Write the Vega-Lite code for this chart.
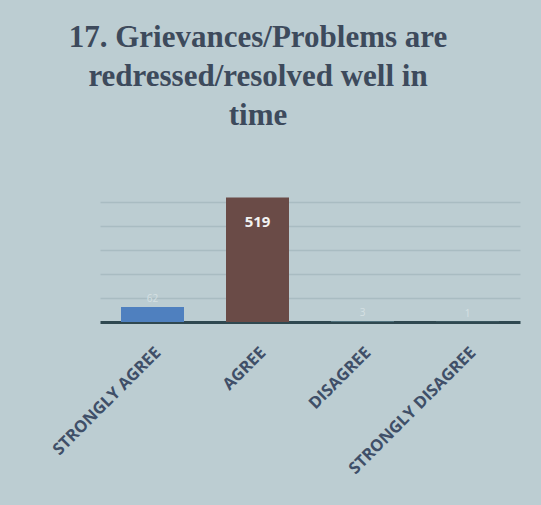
{
  "$schema": "https://vega.github.io/schema/vega-lite/v6.json",
  "autosize": "none",
  "width": 420,
  "height": 144,
  "padding": {"left": 100, "top": 178, "right": 21, "bottom": 183},
  "background": "#bccdd2",
  "title": {
    "text": ["17. Grievances/Problems are", "redressed/resolved well in", "time"],
    "font": "Liberation Serif",
    "fontSize": 31,
    "fontWeight": "bold",
    "color": "#3d4a5c",
    "lineHeight": 39,
    "anchor": "middle",
    "frame": "group",
    "dx": -52,
    "offset": 46
  },
  "config": {
    "view": {"stroke": null},
    "axis": {"labelFont": "Open Sans"}
  },
  "data": {
    "values": [
      {"response": "STRONGLY AGREE", "count": 62, "color": "#4f80bf"},
      {"response": "AGREE", "count": 519, "color": "#6a4b47"},
      {"response": "DISAGREE", "count": 3, "color": "#5d7f8c"},
      {"response": "STRONGLY DISAGREE", "count": 1, "color": "#5d7f8c"}
    ]
  },
  "encoding": {
    "x": {
      "field": "response",
      "type": "nominal",
      "sort": null,
      "scale": {"paddingInner": 0.4, "paddingOuter": 0.2},
      "axis": {
        "title": null,
        "labelAngle": -45,
        "labelFontSize": 16.5,
        "labelFontWeight": "bold",
        "labelColor": "#3f4f68",
        "labelPadding": 22,
        "ticks": false,
        "domainColor": "#2f4850",
        "domainWidth": 3
      }
    },
    "y": {
      "field": "count",
      "type": "quantitative",
      "scale": {"domain": [0, 600]},
      "axis": {
        "title": null,
        "labels": false,
        "ticks": false,
        "domain": false,
        "values": [100, 200, 300, 400, 500],
        "gridColor": "#a9bcc2",
        "gridWidth": 1.5
      }
    }
  },
  "layer": [
    {
      "mark": {"type": "bar"},
      "encoding": {
        "color": {"field": "color", "type": "nominal", "scale": null}
      }
    },
    {
      "transform": [{"filter": "datum.count > 300"}],
      "mark": {"type": "text", "baseline": "top", "dy": 18, "fontSize": 15, "fontWeight": "bold", "color": "#f2f2f2", "font": "Open Sans"},
      "encoding": {"text": {"field": "count", "type": "quantitative"}}
    },
    {
      "transform": [{"filter": "datum.count <= 300"}],
      "mark": {"type": "text", "baseline": "bottom", "dy": -3, "fontSize": 10, "color": "#d5e0e3", "font": "Open Sans"},
      "encoding": {"text": {"field": "count", "type": "quantitative"}}
    }
  ]
}
